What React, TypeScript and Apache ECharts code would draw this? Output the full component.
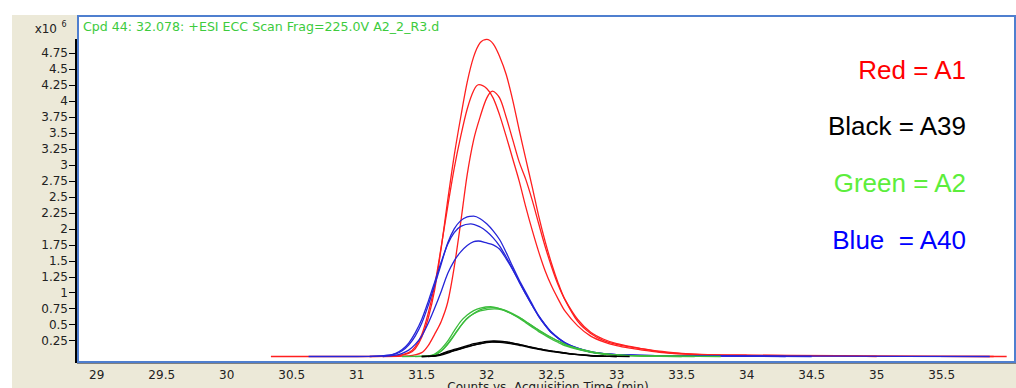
import React, { useEffect, useRef } from "react";
import * as echarts from "echarts";

// ---- axis ticks ----
const xTicks = [29, 29.5, 30, 30.5, 31, 31.5, 32, 32.5, 33, 33.5, 34, 34.5, 35, 35.5, 36];
const xLabels = [29, 29.5, 30, 30.5, 31, 31.5, 32, 32.5, 33, 33.5, 34, 34.5, 35, 35.5];
const yTicks = [0.25, 0.5, 0.75, 1, 1.25, 1.5, 1.75, 2, 2.25, 2.5, 2.75, 3, 3.25, 3.5, 3.75, 4, 4.25, 4.5, 4.75];

const titleText = "Cpd 44: 32.078: +ESI ECC Scan Frag=225.0V A2_2_R3.d";
const xAxisTitle = "Counts vs. Acquisition Time (min)";
const legendLabels = ["Red = A1", "Black = A39", "Green = A2", "Blue  = A40"];

// ---- series: [time (min), counts x10^6] ----
const red1 = [[30.34,0],[31.0,0],[31.3,0.01],[31.4,0.05],[31.45,0.12],[31.5,0.3],[31.55,0.6],[31.6,1.05],[31.65,1.7],[31.7,2.45],[31.75,3.15],[31.8,3.75],[31.85,4.3],[31.9,4.7],[31.95,4.92],[32.0,4.97],[32.05,4.9],[32.1,4.7],[32.15,4.42],[32.2,4.02],[32.25,3.55],[32.3,3.1],[32.35,2.66],[32.4,2.2],[32.45,1.8],[32.5,1.45],[32.55,1.15],[32.6,0.9],[32.7,0.55],[32.8,0.36],[32.9,0.25],[33.0,0.19],[33.1,0.15],[33.2,0.12],[33.35,0.07],[33.5,0.04],[33.7,0.025],[34.0,0.02],[34.7,0.015],[35.0,0.005],[36.0,0]];
const red2 = [[31.1,0],[31.3,0.01],[31.4,0.06],[31.45,0.15],[31.5,0.34],[31.55,0.68],[31.6,1.12],[31.65,1.72],[31.7,2.35],[31.75,2.95],[31.8,3.45],[31.85,3.88],[31.9,4.17],[31.94,4.26],[32.0,4.2],[32.05,4.05],[32.1,3.78],[32.15,3.45],[32.2,3.1],[32.25,2.75],[32.3,2.35],[32.35,1.98],[32.4,1.64],[32.45,1.34],[32.5,1.1],[32.55,0.9],[32.6,0.72],[32.7,0.48],[32.8,0.32],[32.9,0.23],[33.0,0.17],[33.1,0.13],[33.2,0.1],[33.35,0.06],[33.5,0.04],[33.8,0.02],[34.3,0.01],[35.9,0]];
const red3 = [[31.2,0],[31.4,0.01],[31.5,0.06],[31.55,0.17],[31.6,0.35],[31.65,0.55],[31.7,0.85],[31.75,1.4],[31.8,2.1],[31.85,2.85],[31.9,3.4],[31.95,3.76],[32.0,4.05],[32.045,4.16],[32.1,4.05],[32.15,3.75],[32.2,3.4],[32.25,3.05],[32.3,2.78],[32.35,2.45],[32.4,2.08],[32.45,1.72],[32.5,1.4],[32.55,1.12],[32.6,0.9],[32.7,0.58],[32.8,0.38],[32.9,0.27],[33.0,0.2],[33.1,0.16],[33.2,0.12],[33.35,0.08],[33.5,0.05],[33.7,0.03],[34.0,0.02],[34.3,0.015],[34.7,0.01],[35.0,0]];

const blue1 = [[30.63,0],[31.0,0],[31.2,0.01],[31.3,0.04],[31.35,0.09],[31.4,0.18],[31.45,0.32],[31.5,0.52],[31.55,0.8],[31.6,1.12],[31.65,1.45],[31.7,1.78],[31.75,2.0],[31.8,2.13],[31.85,2.19],[31.9,2.2],[31.95,2.16],[32.0,2.08],[32.05,1.97],[32.1,1.83],[32.15,1.63],[32.2,1.41],[32.25,1.2],[32.3,1.01],[32.35,0.82],[32.4,0.64],[32.45,0.5],[32.5,0.38],[32.6,0.22],[32.7,0.13],[32.8,0.07],[32.9,0.045],[33.0,0.03],[33.3,0.015],[34.0,0.01],[34.7,0.005],[35.87,0]];
const blue2 = [[31.1,0],[31.25,0.02],[31.3,0.05],[31.35,0.11],[31.4,0.21],[31.45,0.37],[31.5,0.58],[31.55,0.86],[31.6,1.17],[31.65,1.48],[31.7,1.76],[31.75,1.94],[31.8,2.04],[31.877,2.08],[31.95,2.03],[32.0,1.96],[32.05,1.86],[32.1,1.73],[32.15,1.56],[32.2,1.37],[32.25,1.17],[32.3,0.98],[32.35,0.8],[32.4,0.63],[32.45,0.49],[32.5,0.37],[32.6,0.21],[32.7,0.12],[32.8,0.07],[32.9,0.04],[33.0,0.03],[33.3,0.015],[34.0,0.005],[34.5,0]];
const blue3 = [[31.2,0],[31.3,0.02],[31.35,0.05],[31.4,0.1],[31.45,0.19],[31.5,0.32],[31.55,0.52],[31.6,0.76],[31.65,1.02],[31.7,1.3],[31.75,1.5],[31.8,1.64],[31.85,1.74],[31.9,1.8],[31.935,1.81],[32.0,1.78],[32.05,1.75],[32.1,1.68],[32.15,1.53],[32.2,1.36],[32.25,1.17],[32.3,0.98],[32.35,0.8],[32.4,0.63],[32.45,0.49],[32.5,0.37],[32.6,0.22],[32.7,0.13],[32.8,0.075],[32.9,0.045],[33.0,0.03],[33.3,0.015],[33.8,0.005],[34.3,0]];

const green1 = [[31.45,0],[31.55,0.01],[31.6,0.04],[31.65,0.12],[31.7,0.24],[31.75,0.4],[31.8,0.55],[31.85,0.65],[31.9,0.72],[31.95,0.76],[32.03,0.78],[32.1,0.75],[32.15,0.71],[32.2,0.66],[32.25,0.6],[32.3,0.53],[32.35,0.46],[32.4,0.39],[32.45,0.33],[32.5,0.27],[32.55,0.22],[32.6,0.17],[32.7,0.11],[32.8,0.065],[32.9,0.035],[33.0,0.02],[33.2,0.008],[33.5,0]];
const green2 = [[31.5,0],[31.58,0.01],[31.62,0.04],[31.67,0.12],[31.72,0.24],[31.77,0.39],[31.82,0.53],[31.87,0.63],[31.92,0.7],[31.97,0.745],[32.05,0.765],[32.12,0.74],[32.17,0.7],[32.22,0.65],[32.27,0.59],[32.32,0.52],[32.37,0.45],[32.42,0.385],[32.47,0.325],[32.52,0.27],[32.57,0.22],[32.62,0.17],[32.72,0.11],[32.82,0.065],[32.92,0.035],[33.02,0.02],[33.2,0.008],[33.6,0]];
const green3 = [[31.35,0],[31.55,0.01],[31.6,0.03],[31.65,0.09],[31.7,0.2],[31.75,0.34],[31.8,0.48],[31.85,0.6],[31.9,0.67],[31.95,0.715],[32.06,0.745],[32.12,0.73],[32.17,0.69],[32.22,0.64],[32.27,0.585],[32.32,0.52],[32.37,0.455],[32.42,0.39],[32.47,0.33],[32.52,0.275],[32.57,0.225],[32.62,0.175],[32.72,0.115],[32.82,0.07],[32.92,0.04],[33.02,0.022],[33.2,0.01],[33.8,0]];

const black1 = [[31.5,0],[31.6,0.01],[31.65,0.04],[31.7,0.08],[31.75,0.11],[31.8,0.14],[31.85,0.17],[31.9,0.2],[31.95,0.22],[32.0,0.237],[32.05,0.243],[32.1,0.24],[32.15,0.228],[32.2,0.21],[32.25,0.19],[32.3,0.165],[32.35,0.14],[32.4,0.12],[32.45,0.1],[32.5,0.085],[32.6,0.055],[32.7,0.03],[32.8,0.012],[32.9,0.005],[33.0,0]];
const black2 = [[31.55,0],[31.62,0.01],[31.67,0.035],[31.72,0.07],[31.77,0.1],[31.82,0.13],[31.87,0.16],[31.92,0.19],[31.97,0.21],[32.02,0.228],[32.06,0.235],[32.12,0.23],[32.17,0.22],[32.22,0.2],[32.27,0.18],[32.32,0.155],[32.37,0.135],[32.42,0.115],[32.47,0.095],[32.52,0.08],[32.62,0.05],[32.72,0.028],[32.82,0.012],[32.92,0.004],[33.1,0]];
const black3 = [[31.5,0],[31.6,0.012],[31.65,0.035],[31.7,0.065],[31.75,0.095],[31.8,0.125],[31.85,0.155],[31.9,0.18],[31.95,0.2],[32.0,0.218],[32.04,0.225],[32.1,0.22],[32.15,0.21],[32.2,0.195],[32.25,0.175],[32.3,0.155],[32.35,0.132],[32.4,0.112],[32.45,0.094],[32.5,0.078],[32.6,0.05],[32.7,0.028],[32.8,0.012],[32.9,0.004],[33.0,0]];

const RED = "#ff1f1f";
const BLUE = "#2525d8";
const GREEN = "#3cbd3c";
const BLACK = "#000000";

const curves: { data: number[][]; color: string }[] = [
  { data: red1, color: RED },
  { data: red2, color: RED },
  { data: red3, color: RED },
  { data: blue1, color: BLUE },
  { data: blue2, color: BLUE },
  { data: blue3, color: BLUE },
  { data: green1, color: GREEN },
  { data: green2, color: GREEN },
  { data: green3, color: GREEN },
  { data: black1, color: BLACK },
  { data: black2, color: BLACK },
  { data: black3, color: BLACK },
];

const legendColors = ["#ff0000", "#000000", "#5cee3c", "#0000ff"];
const legendY = [70, 126, 183, 240];

const FONT = "DejaVu Sans";

export default function App() {
  const ref = useRef<HTMLDivElement>(null);
  useEffect(() => {
    if (!ref.current) return;
    const chart = echarts.init(ref.current, null, { renderer: "svg" });
    chart.setOption({
      animation: false,
      backgroundColor: "#ffffff",
      grid: {
        left: 78,
        top: 16,
        width: 937,
        height: 346,
        show: true,
        backgroundColor: "#ffffff",
        borderColor: "#4f7fcf",
        borderWidth: 2,
        z: 1,
      },
      xAxis: {
        type: "value",
        min: 28.856,
        max: 36.064,
        axisLine: { show: false },
        splitLine: { show: false },
        axisTick: {
          show: true,
          length: 5,
          customValues: xTicks,
          lineStyle: { color: "#000", width: 1 },
        },
        axisLabel: {
          customValues: xLabels,
          margin: 7,
          fontSize: 12,
          fontFamily: FONT,
          color: "#222",
        },
      },
      yAxis: {
        type: "value",
        min: -0.0862,
        max: 5.337,
        offset: 3,
        axisLine: { show: false },
        splitLine: { show: false },
        axisTick: {
          show: true,
          length: 6,
          customValues: yTicks,
          lineStyle: { color: "#000", width: 1 },
        },
        axisLabel: {
          customValues: yTicks,
          margin: 7,
          fontSize: 12,
          fontFamily: FONT,
          color: "#222",
        },
      },
      graphic: [
        { type: "rect", z: -10, shape: { x: 12, y: 15, width: 1004, height: 373 }, style: { fill: "#ece9d8" } },
        { type: "line", z: 10, shape: { x1: 76, y1: 39, x2: 76, y2: 363 }, style: { stroke: "#000", lineWidth: 2 } },
        { type: "line", z: 10, shape: { x1: 77, y1: 363.5, x2: 1016, y2: 363.5 }, style: { stroke: "#808080", lineWidth: 1 } },
        {
          type: "text", z: 10, x: 83, y: 26.5,
          style: { text: titleText, fill: "#3dcb3d", fontSize: 12.6, fontFamily: FONT, textAlign: "left", textVerticalAlign: "middle", align: "left", verticalAlign: "middle" },
        },
        {
          type: "text", z: 10, x: 57, y: 29,
          style: { text: "x10", fill: "#222", fontSize: 12, fontFamily: FONT, textAlign: "right", textVerticalAlign: "middle", align: "right", verticalAlign: "middle" },
        },
        {
          type: "text", z: 10, x: 61.5, y: 24,
          style: { text: "6", fill: "#222", fontSize: 8, fontFamily: FONT, textAlign: "left", textVerticalAlign: "middle", align: "left", verticalAlign: "middle" },
        },
        {
          type: "text", z: 10, x: 548, y: 381,
          style: { text: xAxisTitle, fill: "#222", fontSize: 12, fontFamily: FONT, textAlign: "center", textVerticalAlign: "top", align: "center", verticalAlign: "top" },
        },
        ...legendLabels.map((t, i) => ({
          type: "text", z: 10, x: 966, y: legendY[i],
          style: { text: t, fill: legendColors[i], fontSize: 26, fontFamily: "Liberation Sans", textAlign: "right", textVerticalAlign: "middle", align: "right", verticalAlign: "middle" },
        })),
      ],
      series: curves.map((c) => ({
        type: "line",
        data: c.data,
        showSymbol: false,
        smooth: 0.3,
        z: 3,
        lineStyle: { color: c.color, width: 1.3 },
        itemStyle: { color: c.color },
      })),
    });
    return () => chart.dispose();
  }, []);
  return (
    <div
      ref={ref}
      style={{ position: "absolute", left: 0, top: 0, width: 1016, height: 388, background: "#fff" }}
    />
  );
}
